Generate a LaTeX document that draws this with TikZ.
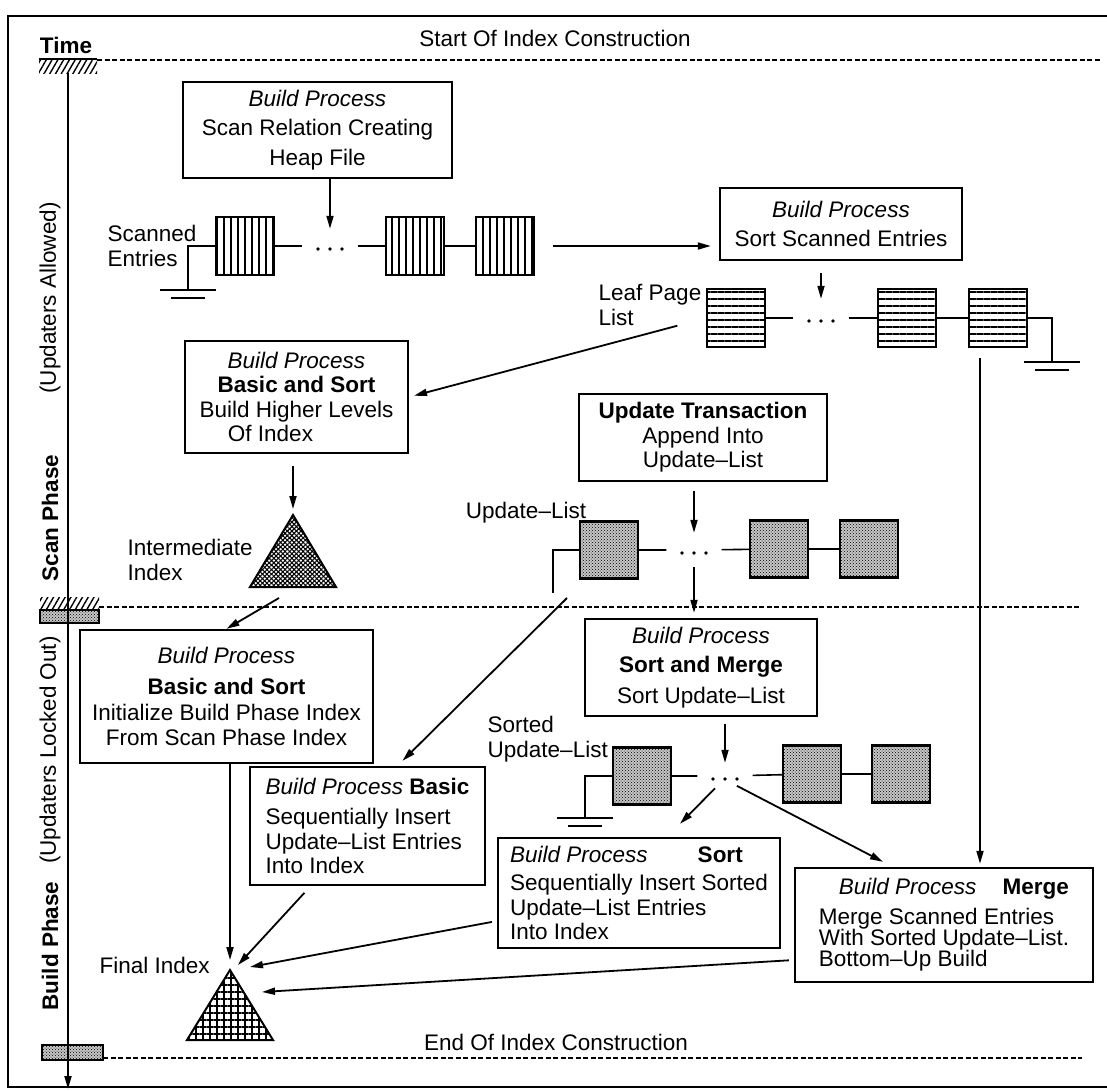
\documentclass[tikz,border=0pt]{standalone}
\usepackage{fontspec}
\setsansfont{Liberation Sans}
\usetikzlibrary{arrows.meta, patterns, patterns.meta, positioning}
\tikzset{
  procbox/.style={draw, line width=2.4pt, align=center, inner sep=4pt},
  arr/.style={-{Triangle[length=13pt,width=7pt]}, line width=1.8pt},
  wire/.style={line width=1.6pt},
  phaseline/.style={dash pattern=on 5pt off 2.5pt, line width=2pt},
  updfill/.style={preaction={fill=gray!45}, pattern=crosshatch dots},
  hatchfill/.style={pattern={Lines[angle=60,distance=5pt,line width=1.4pt]}},
  scanpage/.style={draw, line width=2pt, minimum width=58pt, minimum height=58pt, inner sep=0,
    pattern={Lines[angle=90,distance=7pt,line width=1.3pt]}},
  leafpage/.style={draw, line width=2pt, minimum width=58pt, minimum height=58pt, inner sep=0,
    pattern={Lines[angle=0,distance=7pt,line width=1.3pt]}},
  updpage/.style={draw, line width=2.2pt, minimum width=58pt, minimum height=57pt, inner sep=0, updfill},
  chaindots/.style={minimum width=55pt, minimum height=10pt, inner sep=0},
  crossfill/.style={pattern={Lines[angle=45,distance=3.2pt,line width=1.1pt]},
    postaction={pattern={Lines[angle=-45,distance=3.2pt,line width=1.1pt]}}},
  gridfill/.style={pattern={Lines[angle=0,distance=7pt,line width=1.3pt]},
    postaction={pattern={Lines[angle=90,distance=7pt,line width=1.3pt]}}}
}

\begin{document}
\begin{tikzpicture}[x=1pt, y=-1pt]
  \sffamily\fontsize{22.5}{24.5}\selectfont
  \useasboundingbox (0,0) rectangle (1107,1090);
  \draw[line width=2pt] (1107,16) -- (8,16) -- (8,1087) -- (1107,1087);

  % time axis and phase borders
  \node[font=\bfseries] (timelabel) at (66,45) {Time};
  \node (startlabel) at (555,38) {Start Of Index Construction};
  \node (endlabel) at (556,1042) {End Of Index Construction};
  \draw[line width=2.5pt] (39,59) -- (97,59);
  \path[hatchfill] (39,60) rectangle (97,73);
  \draw[phaseline] (97,60) -- (1100,60);
  \path[hatchfill] (40,597) rectangle (99,610);
  \draw[updfill, line width=1.5pt] (40,610) rectangle (99,623);
  \draw[phaseline] (99,607) -- (1080,607);
  \draw[updfill, line width=1.5pt] (42,1045) rectangle (103,1060);
  \draw[phaseline] (103,1058) -- (1082,1058);
  \coordinate (timetop) at (68,73);
  \coordinate (timebot) at (68,1089);
  \draw[arr] (timetop) -- (timebot);
  \node[rotate=90, font=\bfseries] (scanph) at (50,518) {Scan Phase};
  \node[rotate=90] (scanup) at (50,298) {(Updaters Allowed)};
  \node[rotate=90, font=\bfseries] (buildph) at (50,946) {Build Phase};
  \node[rotate=90] (buildup) at (50,750) {(Updaters Locked Out)};

  % process boxes
  \node[procbox, minimum width=269pt, minimum height=96pt] (scanbox) at (317.5,130) {\textit{Build Process}\\[5pt] Scan Relation Creating\\[5pt] Heap File};
  \node[procbox, minimum width=242pt, minimum height=72pt] (sortscan) at (841,224) {\textit{Build Process}\\[4pt] Sort Scanned Entries};
  \node[procbox, minimum width=223pt, minimum height=112pt] (higher) at (296.5,397) {\textit{Build Process}\\ \textbf{Basic and Sort}\\ Build Higher Levels\\ Of Index\hspace*{52pt}};
  \node[procbox, minimum width=248pt, minimum height=87pt] (append) at (703,437.5) {\textbf{Update Transaction}\\ Append Into\\ Update--List};
  \node[procbox, minimum width=293pt, minimum height=133pt] (init) at (226.5,696.5) {\textit{Build Process}\\[6pt] \textbf{Basic and Sort}\\[2pt] Initialize Build Phase Index\\ From Scan Phase Index};
  \node[procbox, minimum width=232pt, minimum height=97pt] (sortmerge) at (701,667.5) {\textit{Build Process}\\[5pt] \textbf{Sort and Merge}\\[6pt] Sort Update--List};
  \node[procbox, align=left, minimum width=235pt, minimum height=118pt] (basic) at (367.5,826) {\textit{Build Process} \textbf{Basic}\\[6pt] Sequentially Insert\\ Update--List Entries\\ Into Index};
  \node[procbox, align=left, minimum width=282pt, minimum height=110pt] (sortins) at (639,893) {\textit{Build Process}\hspace{50pt}\textbf{Sort}\\[4pt] Sequentially Insert Sorted\\ Update--List Entries\\ Into Index};
  \node[procbox, align=left, minimum width=298pt, minimum height=114pt, font=\fontsize{22.5}{21}\selectfont] (merge) at (944,925) {\hspace*{20pt}\textit{Build Process}\hspace{26pt}\textbf{Merge}\\[8pt] Merge Scanned Entries\\ With Sorted Update--List.\\ Bottom--Up Build};

  % page lists
  \node[scanpage] (sc1) at (245,246) {};
  \node[chaindots] (scdots) at (330,246) {};
  \node[scanpage] (sc2) at (415,246) {};
  \node[scanpage, right=30pt of sc2] (sc3) {};
  \node[leafpage] (lp1) at (736,318) {};
  \node[chaindots] (lpdots) at (821,318) {};
  \node[leafpage] (lp2) at (907,318) {};
  \node[leafpage, right=31pt of lp2] (lp3) {};
  \node[updpage] (ul1) at (609,550) {};
  \node[chaindots] (uldots) at (694,550) {};
  \node[updpage] (ul2) at (779,549) {};
  \node[updpage, right=30pt of ul2] (ul3) {};
  \node[updpage] (su1) at (642,776) {};
  \node[chaindots] (sudots) at (725,776) {};
  \node[updpage] (su2) at (812,774) {};
  \node[updpage, right=29pt of su2] (su3) {};
  \foreach \d in {scdots,lpdots,uldots,sudots}
    \foreach \dx in {-12,0,12}
      \fill ([xshift=\dx pt, yshift=-3pt]\d.center) circle (1.8pt);
  \draw[wire] (sc1) -- (scdots) -- (sc2) -- (sc3);
  \draw[wire] (lp1) -- (lpdots) -- (lp2) -- (lp3);
  \draw[wire] (ul1) -- (uldots) -- (ul2) -- (ul3);
  \draw[wire] (su1) -- (sudots) -- (su2) -- (su3);
  \coordinate (scgnd) at (188,290);
  \coordinate (lpgnd) at (1052,362);
  \coordinate (sugnd) at (585,818);
  \coordinate (ulend) at (553,593);
  \draw[wire] (sc1) -| (scgnd);
  \draw[wire] (lp3) -| (lpgnd);
  \draw[wire] (su1) -| (sugnd);
  \draw[wire] (ul1) -| (ulend);
  \foreach \g in {scgnd,lpgnd,sugnd} {
    \draw[wire] ([xshift=-28pt]\g) -- ([xshift=28pt]\g);
    \draw[wire] ([xshift=-17pt,yshift=-8pt]\g) -- ([xshift=17pt,yshift=-8pt]\g);
  }
  \node[anchor=west, align=left] (sclabel) at (100,246) {Scanned\\Entries};
  \node[anchor=west, align=left] (lplabel) at (591,305) {Leaf Page\\List};
  \node (ullabel) at (526,513) {Update--List};
  \node[anchor=west, align=left] (sulabel) at (480,739) {Sorted\\Update--List};

  % indexes
  \draw[line width=2pt, crossfill] (293,515) coordinate (inttop) -- (336,587) -- (250,587) -- cycle;
  \draw[line width=2pt, gridfill] (230,970) coordinate (fintop) -- (273,1040) -- (187,1040) -- cycle;
  \node[anchor=west, align=left] (intlabel) at (120,560) {Intermediate\\Index};
  \node[anchor=west] (finlabel) at (92,965) {Final Index};

  % connectors
  \coordinate (intout) at (279,598);
  \coordinate (ulout) at (567,598);
  \coordinate (fin1) at (238,965);
  \coordinate (fin2) at (250,967);
  \coordinate (fin3) at (262,992);
  \draw[arr, shorten >=12pt] (scanbox.south -| scdots.north) -- (scdots.north);
  \draw[arr, shorten <=18pt, shorten >=8pt] (sc3.east) -- (sc3.east -| sortscan.west);
  \draw[arr, shorten <=12pt, shorten >=14pt] (sortscan.south -| lpdots.north) -- (lpdots.north);
  \draw[arr, shorten <=30pt, shorten >=5pt] (lp1.west) -- (higher.east);
  \draw[arr, shorten <=12pt, shorten >=6pt] (higher.south -| inttop) -- (inttop);
  \draw[arr] (intout) -- (init.north);
  \draw[arr, shorten >=10pt] (init.south -| fintop) -- (fintop);
  \draw[arr, shorten <=9pt, shorten >=12pt] (append.south -| uldots.north) -- (uldots.north);
  \draw[arr, shorten <=12pt, shorten >=5pt] (uldots.south) -- (uldots.south |- sortmerge.north);
  \draw[arr] (ulout) -- ([xshift=35pt, yshift=5pt]basic.north);
  \draw[arr, shorten <=7pt, shorten >=8pt] (sortmerge.south -| sudots.north) -- (sudots.north);
  \draw[arr, shorten <=10pt] ([xshift=-3pt]sudots.south) -- ([xshift=41pt, yshift=13pt]sortins.north);
  \draw[arr, shorten <=10pt] ([xshift=3pt]sudots.south) -- ([xshift=-61pt, yshift=5pt]merge.north);
  \draw[arr, shorten <=10pt, shorten >=3pt] ([xshift=-18pt]lp3.south) -- ([xshift=-18pt]lp3.south |- merge.north);
  \draw[arr, shorten <=9pt] ([xshift=-57pt]basic.south) -- (fin1);
  \draw[arr, shorten <=5pt] ([yshift=-28pt]sortins.west) -- (fin2);
  \draw[arr, shorten <=5pt] ([yshift=-35pt]merge.west) -- (fin3);
\end{tikzpicture}
\end{document}
